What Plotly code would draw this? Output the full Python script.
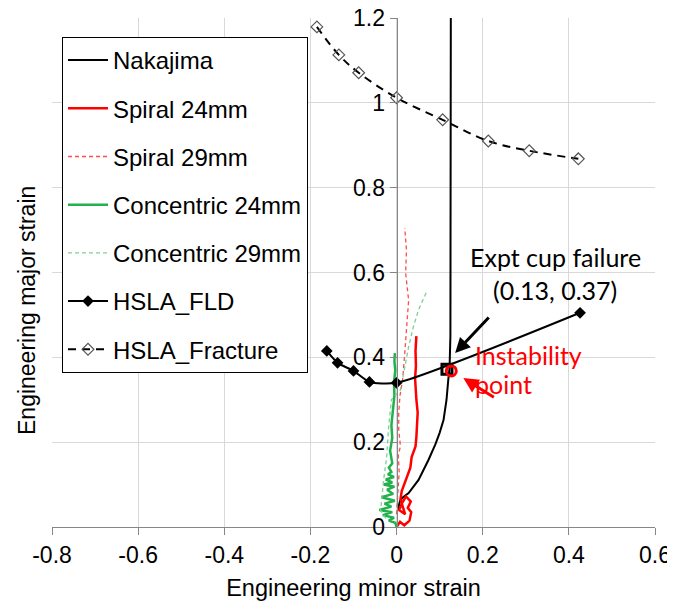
import plotly.graph_objects as go

# strain data (minor strain, major strain)
nakajima_x = [0.003, 0.008, 0.015, 0.028, 0.051, 0.074, 0.090, 0.100, 0.109, 0.116, 0.120, 0.123, 0.125, 0.126, 0.126]
nakajima_y = [0.040, 0.062, 0.070, 0.080, 0.111, 0.158, 0.195, 0.222, 0.252, 0.300, 0.347, 0.375, 0.450, 0.800, 1.250]

spiral24_x = [0.000, 0.008, 0.018, 0.030, 0.034, 0.026, 0.033, 0.022, 0.012, 0.006, 0.020, 0.009,
              0.012, 0.021, 0.032, 0.035, 0.044, 0.046, 0.048, 0.049, 0.046, 0.044, 0.043, 0.045, 0.044, 0.046]
spiral24_y = [0.000, 0.012, 0.004, 0.015, 0.035, 0.045, 0.060, 0.072, 0.055, 0.040, 0.030, 0.065,
              0.085, 0.111, 0.140, 0.165, 0.190, 0.212, 0.240, 0.270, 0.300, 0.323, 0.350, 0.380, 0.415, 0.450]

spiral29_x = [0.000, 0.003, 0.006, 0.004, 0.009, 0.005, 0.005, 0.008, 0.014, 0.019, 0.023, 0.028, 0.021, 0.023, 0.019]
spiral29_y = [0.030, 0.080, 0.130, 0.170, 0.190, 0.230, 0.270, 0.310, 0.347, 0.410, 0.472, 0.535, 0.599, 0.653, 0.705]

conc24_x = [0.000, -0.003, -0.018, -0.006, -0.032, -0.010, -0.040, -0.012, -0.028, -0.004, -0.035, -0.008,
            -0.022, -0.005, -0.030, -0.010, -0.025, -0.006, -0.020, -0.012, -0.018, -0.010, -0.015,
            -0.010, -0.012, -0.008, -0.005, -0.006, -0.003, -0.005, -0.004]
conc24_y = [0.000, 0.010, 0.015, 0.022, 0.028, 0.035, 0.040, 0.048, 0.055, 0.062, 0.070, 0.078,
            0.088, 0.095, 0.100, 0.105, 0.112, 0.118, 0.124, 0.130, 0.140, 0.150, 0.180,
            0.210, 0.240, 0.280, 0.310, 0.340, 0.370, 0.390, 0.410]

conc29_x = [-0.025, -0.037, -0.030, -0.023, -0.019, -0.012, 0.009, 0.019, 0.028, 0.039, 0.051, 0.070]
conc29_y = [0.020, 0.040, 0.111, 0.165, 0.229, 0.300, 0.323, 0.377, 0.425, 0.472, 0.512, 0.555]

fld_x = [-0.162, -0.137, -0.100, -0.063, 0.000, 0.426]
fld_y = [0.415, 0.387, 0.368, 0.342, 0.340, 0.505]

frac_x = [-0.185, -0.134, -0.088, 0.000, 0.107, 0.213, 0.308, 0.422]
frac_y = [1.179, 1.113, 1.071, 1.012, 0.960, 0.910, 0.887, 0.868]

cup_fail = (0.117, 0.372)
instability = (0.127, 0.368)

x_ticks = [-0.8, -0.6, -0.4, -0.2, 0, 0.2, 0.4, 0.6]
x_ticktext = ['-0.8', '-0.6', '-0.4', '-0.2', '0', '0.2', '0.4', '0.6']
y_ticks = [0, 0.2, 0.4, 0.6, 0.8, 1, 1.2]
y_ticktext = ['0', '0.2', '0.4', '0.6', '0.8', '1', '1.2']

# page body has an 8px margin, so the figure is a bit smaller and shifted
OFF = 8
W, H = 675 - OFF, 601 - OFF
L, R, T, B = 44, 20, 10, 74
PW, PH = W - L - R, H - T - B


def to_paper(sx, sy):
    # screen pixel -> paper coordinates
    return (sx - OFF - L) / PW, 1 - (sy - OFF - T) / PH


fig = go.Figure()

fig.add_trace(go.Scatter(x=nakajima_x, y=nakajima_y, mode='lines', name='Nakajima',
                         line=dict(color='black', width=2), legendgroup='a'))
fig.add_trace(go.Scatter(x=spiral24_x, y=spiral24_y, mode='lines', name='Spiral 24mm',
                         line=dict(color='#ff0000', width=2.5), legendgroup='b'))
fig.add_trace(go.Scatter(x=spiral29_x, y=spiral29_y, mode='lines', name='Spiral 29mm',
                         line=dict(color='#ff4d4d', width=1.3, dash='4px,3px'), legendgroup='c'))
fig.add_trace(go.Scatter(x=conc24_x, y=conc24_y, mode='lines', name='Concentric 24mm',
                         line=dict(color='#22b14c', width=2.5), legendgroup='d'))
fig.add_trace(go.Scatter(x=conc29_x, y=conc29_y, mode='lines', name='Concentric 29mm',
                         line=dict(color='#7fcf93', width=1.3, dash='4px,3px'), legendgroup='e'))
fig.add_trace(go.Scatter(x=fld_x, y=fld_y, mode='lines+markers', name='HSLA_FLD',
                         line=dict(color='black', width=2, shape='spline', smoothing=0.6),
                         marker=dict(symbol='diamond', size=9, color='black'), legendgroup='f'))
fig.add_trace(go.Scatter(x=frac_x, y=frac_y, mode='lines+markers', name='HSLA_Fracture',
                         line=dict(color='black', width=2, dash='8px,6px', shape='spline'),
                         marker=dict(symbol='diamond-open', size=9, color='#555555',
                                     line=dict(width=1.2)), legendgroup='g'))

# failure and instability markers
fig.add_trace(go.Scatter(x=[cup_fail[0]], y=[cup_fail[1]], mode='markers', showlegend=False,
                         marker=dict(symbol='square-open', size=10, color='black', line=dict(width=3))))
fig.add_trace(go.Scatter(x=[instability[0]], y=[instability[1]], mode='markers', showlegend=False,
                         marker=dict(symbol='circle-open', size=10, color='#ff0000', line=dict(width=3))))

fig.add_annotation(x=0.136, y=0.41, ax=35, ay=-37, showarrow=True, arrowhead=2, arrowsize=1,
                   arrowwidth=3, arrowcolor='black', text='')
fig.add_annotation(x=0.155, y=0.351, ax=32, ay=20, showarrow=True, arrowhead=2, arrowsize=1,
                   arrowwidth=3, arrowcolor='#ff0000', text='')

font_ann = 'Lato, Open Sans, sans-serif'


def px_ann(text, sx, sy, color, anchor='center'):
    px, py = to_paper(sx, sy)
    fig.add_annotation(x=px, y=py, xref='paper', yref='paper',
                       text=text, showarrow=False, xanchor=anchor, yanchor='middle',
                       font=dict(family=font_ann, size=25, color=color))


px_ann('Expt cup failure', 555, 257, 'black')
px_ann('(0.13, 0.37)', 555, 290, 'black')
px_ann('Instability', 473, 355, '#ff0000', 'left')
px_ann('point', 473, 384, '#ff0000', 'left')

tx, ty = to_paper(27, 311)
fig.add_annotation(x=tx, y=ty, xref='paper', yref='paper',
                   xanchor='center', yanchor='middle', text='Engineering major strain',
                   textangle=-90, showarrow=False,
                   font=dict(family='Liberation Sans, Arial', size=23, color='black'))

lx, ly = to_paper(62, 37)
fig.update_layout(
    width=W, height=H,
    margin=dict(l=L, r=R, t=T, b=B, autoexpand=False),
    paper_bgcolor='white', plot_bgcolor='white',
    font=dict(family='Liberation Sans, Arial', size=23, color='black'),
    legend=dict(x=lx, y=ly, xanchor='left', yanchor='top', itemwidth=40,
                bgcolor='white', bordercolor='black', borderwidth=1, tracegroupgap=14,
                font=dict(size=24)),
    xaxis=dict(range=[-0.8, 0.6], tickvals=x_ticks, ticktext=x_ticktext, showgrid=True,
               gridcolor='#d9d9d9', zeroline=False, showline=True, linecolor='#868686',
               ticks='outside', ticklen=7, tickcolor='#868686', automargin=False,
               ticklabeloverflow='allow',
               title=dict(text='Engineering minor strain', standoff=12,
                          font=dict(size=23.5))),
    yaxis=dict(range=[0, 1.2], tickvals=y_ticks, ticktext=y_ticktext, showgrid=True,
               gridcolor='#d9d9d9', zeroline=False, showline=True, linecolor='#868686',
               ticks='outside', ticklen=7, tickcolor='#868686', anchor='free',
               position=0.8 / 1.4, automargin=False, ticklabeloverflow='allow'),
)

fig.write_html("out.html")
